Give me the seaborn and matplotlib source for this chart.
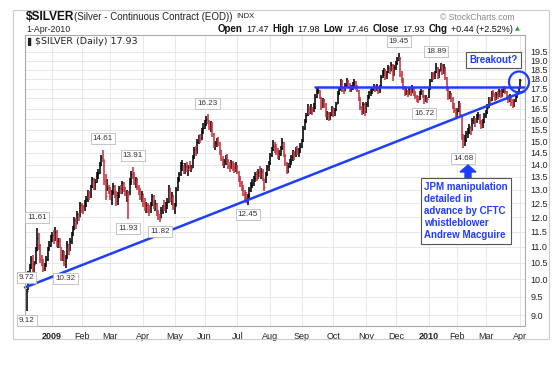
import numpy as np
import pandas as pd
import seaborn as sns
import matplotlib.pyplot as plt
from matplotlib.patches import Ellipse, Polygon, Rectangle
from matplotlib.ticker import FixedLocator, NullLocator, NullFormatter

# daily bars: (high, low, close), one list per month
dec08 = [(9.72, 9.12, 9.65), (10.25, 9.70, 10.15), (10.45, 10.05, 10.35), (10.70, 10.30, 10.60),
         (10.75, 10.20, 10.35), (10.55, 10.15, 10.45), (11.00, 10.45, 10.90), (11.61, 10.85, 11.30),
         (11.45, 10.90, 11.05), (11.10, 10.50, 10.60), (10.75, 10.40, 10.55), (10.60, 10.20, 10.30),
         (10.50, 10.25, 10.40), (10.70, 10.35, 10.60), (11.00, 10.55, 10.90), (11.20, 10.85, 11.05),
         (11.40, 11.00, 11.30)]
jan09 = [(11.50, 11.15, 11.40), (11.55, 11.10, 11.20), (11.65, 11.20, 11.50), (11.55, 11.00, 11.10),
         (11.30, 10.95, 11.20), (11.30, 10.95, 11.05), (11.00, 10.55, 10.65), (10.90, 10.55, 10.80),
         (10.85, 10.40, 10.50), (10.75, 10.32, 10.60), (11.20, 10.60, 11.10), (11.10, 10.75, 10.90),
         (11.30, 10.85, 11.20), (11.50, 11.10, 11.40), (11.70, 11.35, 11.60), (12.00, 11.55, 11.90),
         (11.95, 11.60, 11.75), (12.20, 11.75, 12.10), (12.15, 11.85, 12.00), (12.55, 12.00, 12.45)]
feb09 = [(12.50, 12.15, 12.35), (12.45, 12.10, 12.30), (12.60, 12.20, 12.45), (12.75, 12.35, 12.65),
         (13.00, 12.55, 12.90), (12.95, 12.60, 12.75), (13.20, 12.70, 13.10), (13.50, 13.05, 13.40),
         (13.45, 13.00, 13.10), (13.40, 13.00, 13.30), (13.70, 13.25, 13.60), (13.80, 13.40, 13.65),
         (14.10, 13.60, 14.00), (14.40, 13.95, 14.30), (14.61, 14.10, 14.25), (14.20, 13.20, 13.35),
         (13.60, 12.60, 12.75), (13.40, 12.95, 13.05), (13.20, 12.85, 12.95)]
mar09 = [(13.10, 12.60, 12.75), (13.00, 12.45, 12.90), (13.25, 12.80, 13.15), (13.20, 12.70, 12.80),
         (12.95, 12.40, 12.55), (12.90, 12.45, 12.80), (13.15, 12.70, 13.05), (13.20, 12.85, 12.95),
         (13.35, 12.85, 13.25), (13.30, 12.90, 13.05), (13.10, 12.75, 12.85), (13.00, 12.55, 12.90),
         (12.95, 11.93, 12.80), (13.45, 12.80, 13.35), (13.75, 13.20, 13.60), (13.91, 13.40, 13.55),
         (13.70, 13.20, 13.30), (13.50, 13.05, 13.40), (13.45, 13.00, 13.10), (13.20, 12.80, 12.95),
         (13.05, 12.60, 12.70), (12.95, 12.55, 12.85)]
apr09 = [(12.80, 12.35, 12.50), (12.70, 12.20, 12.35), (12.55, 12.15, 12.45), (12.50, 12.15, 12.30),
         (12.45, 12.05, 12.20), (12.55, 12.15, 12.45), (12.85, 12.40, 12.75), (12.80, 12.30, 12.40),
         (12.60, 12.20, 12.50), (12.50, 12.05, 12.15), (12.25, 11.90, 12.00), (12.10, 11.82, 11.95),
         (12.35, 11.95, 12.25), (12.45, 12.10, 12.40), (12.60, 12.20, 12.30), (12.55, 12.15, 12.45),
         (12.70, 12.30, 12.55), (13.20, 12.50, 13.05), (13.05, 12.55, 12.65), (12.90, 12.45, 12.80),
         (12.75, 12.25, 12.35)]
may09 = [(12.50, 12.10, 12.40), (13.10, 12.40, 13.00), (13.50, 12.95, 13.40), (13.70, 13.30, 13.60),
         (14.10, 13.55, 14.00), (14.20, 13.75, 14.05), (14.00, 13.60, 13.75), (14.05, 13.60, 13.95),
         (14.10, 13.70, 13.80), (14.00, 13.55, 13.90), (14.15, 13.75, 13.85), (14.00, 13.70, 13.85),
         (14.40, 13.85, 14.30), (14.75, 14.25, 14.65), (14.80, 14.35, 14.50), (15.10, 14.45, 14.95),
         (15.25, 14.85, 15.10), (15.30, 14.90, 15.05), (15.60, 15.05, 15.45), (15.80, 15.30, 15.60)]
jun09 = [(15.95, 15.55, 15.85), (16.15, 15.70, 16.00), (16.23, 15.75, 15.85), (15.95, 15.50, 15.65),
         (15.90, 15.40, 15.80), (15.85, 15.20, 15.30), (15.35, 14.70, 14.85), (15.00, 14.60, 14.90),
         (15.15, 14.75, 15.05), (15.20, 14.80, 14.95), (14.95, 14.40, 14.50), (14.60, 14.15, 14.25),
         (14.35, 13.95, 14.10), (14.25, 13.85, 14.15), (14.40, 14.00, 14.30), (14.45, 14.05, 14.20),
         (14.25, 13.80, 13.95), (14.10, 13.70, 13.85), (14.20, 13.80, 14.05), (14.15, 13.75, 13.90),
         (14.05, 13.65, 13.80), (14.10, 13.70, 13.95)]
jul09 = [(14.00, 13.60, 13.70), (13.75, 13.30, 13.45), (13.55, 13.10, 13.25), (13.35, 12.95, 13.05),
         (13.20, 12.75, 12.85), (13.00, 12.60, 12.70), (12.90, 12.50, 12.65), (12.85, 12.45, 12.75),
         (13.10, 12.70, 13.00), (13.30, 12.90, 13.20), (13.40, 13.05, 13.25), (13.55, 13.15, 13.45),
         (13.70, 13.30, 13.60), (13.75, 13.35, 13.50), (13.80, 13.40, 13.70), (13.95, 13.50, 13.60),
         (13.85, 13.40, 13.75), (13.80, 13.35, 13.45), (13.40, 12.95, 13.10), (13.70, 13.25, 13.60),
         (14.00, 13.55, 13.90), (14.15, 13.75, 14.05)]
aug09 = [(14.50, 14.00, 14.40), (14.75, 14.30, 14.65), (15.05, 14.55, 14.80), (14.95, 14.50, 14.70),
         (14.85, 14.40, 14.55), (14.70, 14.25, 14.45), (14.60, 14.20, 14.50), (14.80, 14.35, 14.70),
         (15.15, 14.60, 14.95), (14.95, 14.30, 14.40), (14.45, 13.95, 14.05), (14.10, 13.60, 13.80),
         (14.05, 13.65, 13.95), (14.25, 13.85, 14.15), (14.40, 14.00, 14.30), (14.60, 14.15, 14.45),
         (14.55, 14.20, 14.40), (14.75, 14.30, 14.65), (14.80, 14.40, 14.55), (14.70, 14.30, 14.60),
         (14.90, 14.50, 14.75)]
sep09 = [(15.10, 14.70, 15.00), (15.70, 14.95, 15.60), (16.00, 15.50, 15.90), (16.30, 15.80, 16.20),
         (16.70, 16.15, 16.55), (16.65, 16.20, 16.45), (16.70, 16.25, 16.50), (16.60, 16.20, 16.45),
         (16.75, 16.35, 16.55), (17.20, 16.50, 17.05), (17.55, 17.00, 17.40), (17.60, 17.20, 17.45),
         (17.45, 16.95, 17.05), (17.05, 16.45, 16.60), (17.00, 16.55, 16.90), (16.95, 16.55, 16.70),
         (16.75, 16.10, 16.25), (16.40, 15.95, 16.30), (16.35, 15.90, 16.05), (16.35, 15.95, 16.20),
         (16.65, 16.15, 16.55)]
oct09 = [(16.60, 16.10, 16.25), (16.55, 16.15, 16.45), (16.80, 16.40, 16.70), (17.35, 16.70, 17.25),
         (17.60, 17.15, 17.50), (18.00, 17.40, 17.90), (17.95, 17.30, 17.45), (17.55, 17.20, 17.40),
         (17.80, 17.35, 17.70), (18.05, 17.60, 17.90), (17.95, 17.55, 17.75), (17.80, 17.30, 17.40),
         (17.70, 17.30, 17.60), (17.85, 17.45, 17.75), (18.00, 17.60, 17.85), (17.90, 17.45, 17.60),
         (17.70, 17.30, 17.45), (17.45, 16.85, 17.00), (17.05, 16.45, 16.60), (16.65, 16.20, 16.30),
         (16.80, 16.25, 16.70), (16.75, 16.15, 16.25)]
nov09 = [(16.80, 16.30, 16.70), (17.15, 16.60, 17.05), (17.40, 16.95, 17.30), (17.50, 17.10, 17.35),
         (17.60, 17.20, 17.50), (17.75, 17.35, 17.65), (17.70, 17.30, 17.45), (17.75, 17.35, 17.60),
         (17.65, 17.20, 17.35), (17.70, 17.25, 17.55), (18.20, 17.60, 18.10), (18.50, 18.05, 18.35),
         (18.60, 18.15, 18.50), (18.55, 17.95, 18.10), (18.45, 18.00, 18.35), (18.75, 18.30, 18.60),
         (18.70, 18.25, 18.40), (18.90, 18.45, 18.75), (18.80, 17.90, 18.20), (18.75, 18.15, 18.65)]
dec09 = [(18.95, 18.50, 18.85), (19.20, 18.75, 19.05), (19.45, 18.95, 19.15), (19.20, 18.10, 18.25),
         (18.40, 17.80, 18.00), (18.05, 17.45, 17.55), (17.65, 17.10, 17.30), (17.55, 17.15, 17.35),
         (17.45, 17.05, 17.20), (17.60, 17.15, 17.50), (17.55, 17.10, 17.25), (17.70, 17.25, 17.55),
         (17.60, 17.10, 17.20), (17.35, 16.95, 17.10), (17.15, 16.80, 16.95), (17.10, 16.75, 16.90),
         (17.35, 16.90, 17.25), (17.50, 17.15, 17.35), (17.45, 17.00, 17.10), (17.15, 16.72, 16.95),
         (17.15, 16.80, 17.00), (17.05, 16.75, 16.95)]
jan10 = [(17.60, 17.00, 17.50), (18.00, 17.45, 17.90), (18.35, 17.85, 18.25), (18.35, 17.95, 18.15),
         (18.45, 18.00, 18.35), (18.89, 18.30, 18.60), (18.65, 18.00, 18.15), (18.55, 18.05, 18.45),
         (18.85, 18.40, 18.75), (18.80, 18.20, 18.35), (18.80, 18.25, 18.65), (18.60, 17.95, 18.05),
         (18.10, 17.35, 17.50), (17.60, 16.90, 17.10), (17.40, 16.95, 17.25), (17.25, 16.80, 16.95),
         (17.05, 16.50, 16.60), (16.75, 16.30, 16.45), (16.55, 16.10, 16.20)]
feb10 = [(16.55, 16.05, 16.40), (16.85, 16.35, 16.65), (16.75, 16.15, 16.25), (16.20, 15.05, 15.20),
         (15.30, 14.68, 15.00), (15.25, 14.80, 15.05), (15.45, 14.95, 15.35), (15.60, 15.15, 15.40),
         (15.75, 15.30, 15.65), (15.70, 15.25, 15.50), (16.05, 15.45, 15.95), (16.15, 15.75, 16.00),
         (16.05, 15.65, 15.85), (16.25, 15.80, 16.15), (16.35, 15.95, 16.20), (16.25, 15.75, 15.85),
         (15.95, 15.55, 15.70), (16.00, 15.60, 15.85), (16.30, 15.80, 16.20)]
mar10 = [(16.45, 16.05, 16.35), (16.70, 16.25, 16.55), (17.05, 16.55, 16.90), (17.05, 16.65, 16.85),
         (17.40, 16.85, 17.30), (17.45, 17.05, 17.20), (17.25, 16.85, 17.00), (17.30, 16.90, 17.20),
         (17.35, 16.95, 17.15), (17.50, 17.05, 17.40), (17.45, 17.00, 17.10), (17.50, 17.05, 17.40),
         (17.65, 17.25, 17.55), (17.60, 17.20, 17.35), (17.40, 16.90, 17.00), (17.15, 16.75, 16.95),
         (17.20, 16.80, 17.05), (17.05, 16.65, 16.80), (16.95, 16.55, 16.70), (16.95, 16.60, 16.85),
         (17.20, 16.80, 17.10), (17.40, 17.00, 17.30), (17.60, 17.20, 17.49)]
apr10 = [(17.98, 17.46, 17.93)]

holidays = ['2008-12-25', '2009-01-01', '2009-01-19', '2009-02-16', '2009-04-10', '2009-05-25',
            '2009-07-03', '2009-09-07', '2009-11-26', '2009-12-25', '2010-01-01', '2010-01-18',
            '2010-02-15']

# bars that carry a high / low value box
high_marks = [0, 7, 51, 71, 121, 249, 274]
low_marks = [0, 26, 68, 89, 148, 266, 292]

# hand drawn lines (bar position, price)
trend_pos = [-1.1, 333.3]
trend_val = [9.76, 17.37]
resist_pos = [192.9, 333.0]
resist_val = [17.57, 17.57]

y_ticks = [9.0 + 0.5 * k for k in range(22)]

bars = dec08 + jan09 + feb09 + mar09 + apr09 + may09 + jun09 + jul09 + aug09 + sep09 + \
    oct09 + nov09 + dec09 + jan10 + feb10 + mar10 + apr10
dates = pd.bdate_range('2008-12-08', '2010-04-01', freq='C', holidays=holidays)
df = pd.DataFrame(bars, columns=['high', 'low', 'close'])
df['date'] = dates[:len(df)]
df['pos'] = np.arange(len(df))
up = df['close'].diff().fillna(1) >= 0

sns.set_style('white')
plt.rcParams['font.family'] = ['Liberation Sans', 'DejaVu Sans']

W, H = 554, 368
fig = plt.figure(figsize=(W / 100, H / 100), dpi=100)
ax = fig.add_axes([25 / W, 1 - 326 / H, 500 / W, 291 / H])


def fpos(x, y):
    return x / W, 1 - y / H


blue = '#1f3dff'
red = '#c8303c'

# OHLC bars
for mask, col in [(up, 'black'), (~up, red)]:
    d = df[mask]
    ax.vlines(d['pos'], d['low'], d['high'], color=col, lw=1.15)
    ax.hlines(d['close'], d['pos'], d['pos'] + 0.6, color=col, lw=0.9)

sns.lineplot(x=trend_pos, y=trend_val, ax=ax, color=blue, lw=1.8, clip_on=False)
sns.lineplot(x=resist_pos, y=resist_val, ax=ax, color=blue, lw=1.8, clip_on=False)

ax.set_yscale('log')
ax.set_ylim(8.715, 20.48)
ax.set_xlim(-1.1, 333.3)
ax.yaxis.set_major_locator(FixedLocator(y_ticks))
ax.set_yticklabels([f'{v:.1f}' for v in y_ticks])
ax.yaxis.set_minor_locator(NullLocator())
ax.yaxis.set_minor_formatter(NullFormatter())
ax.yaxis.tick_right()

month_start = df[df['date'].dt.month != df['date'].shift().dt.month].iloc[1:]
ax.set_xticks(month_start['pos'])
labels = [str(d.year) if d.month == 1 else d.strftime('%b') for d in month_start['date']]
ax.set_xticklabels(labels)
for t, d in zip(ax.get_xticklabels(), month_start['date']):
    if d.month == 1:
        t.set_fontweight('bold')
ax.tick_params(axis='both', length=0, labelsize=6.5, colors='#222222')
ax.tick_params(axis='y', pad=4)
ax.tick_params(axis='x', pad=4)
ax.set_xlabel('')
ax.set_ylabel('')
ax.grid(True, color='#e4e4e4', lw=0.6)
ax.set_axisbelow(True)
for s in ax.spines.values():
    s.set_color('#aaaaaa')
    s.set_linewidth(0.8)

# high / low value boxes
box = dict(boxstyle='square,pad=0.25', fc='white', ec='#bbbbbb', lw=0.6)
for i in high_marks:
    v = df.loc[i, 'high']
    ax.annotate(f'{v:.2f}', (i, v), xytext=(0, 8), textcoords='offset points', ha='center',
                va='center', fontsize=5.8, color='#333333', bbox=box, annotation_clip=False)
for i in low_marks:
    v = df.loc[i, 'low']
    ax.annotate(f'{v:.2f}', (i, v), xytext=(0, -7), textcoords='offset points', ha='center',
                va='center', fontsize=5.8, color='#333333', bbox=box, annotation_clip=False)

# annotations
fig.text(*fpos(493.5, 60), 'Breakout?', fontsize=7, fontweight='bold', color=blue,
         ha='center', va='center',
         bbox=dict(boxstyle='square,pad=0.3', fc='white', ec='#555555', lw=0.8))
fig.text(*fpos(424, 211), 'JPM manipulation\ndetailed in\nadvance by CFTC\nwhistleblower\nAndrew Macguire',
         fontsize=7, fontweight='bold', color=blue, ha='left', va='center', linespacing=1.28,
         bbox=dict(boxstyle='square,pad=0.35', fc='white', ec='#555555', lw=0.8))
arrow_px = [(468, 165), (476, 172), (471, 172), (471, 179), (465, 179), (465, 172), (460, 172)]
fig.patches.append(Polygon([fpos(x, y) for x, y in arrow_px], closed=True, fc=blue, ec=blue,
                           transform=fig.transFigure))
fig.patches.append(Ellipse(fpos(519, 82), 20 / W, 21 / H, fill=False, ec=blue, lw=1.6,
                           transform=fig.transFigure))

# chart frame and header
fig.patches.append(Rectangle(fpos(13, 339), 536 / W, 329 / H, fill=False, ec='#cccccc', lw=0.8,
                             transform=fig.transFigure))
fig.text(*fpos(26, 17), '$SILVER', fontsize=8.6, fontweight='bold', va='center', color='#111111')
fig.text(*fpos(74, 17), '(Silver - Continuous Contract (EOD))', fontsize=7, va='center', color='#222222')
fig.text(*fpos(236, 17), 'INDX', fontsize=5.5, va='center', color='#222222')
fig.text(*fpos(26, 29), '1-Apr-2010', fontsize=6.3, va='center', color='#222222')
fig.text(*fpos(515, 17), '\u00a9 StockCharts.com', fontsize=6.2, va='center', ha='right', color='#888888')
fig.text(*fpos(35, 42), '$SILVER (Daily) 17.93', fontsize=6.8, va='center', color='#222222',
         family='DejaVu Sans')
fig.text(*fpos(27, 42), '\u258c', fontsize=6, va='center', color='#222222', family='DejaVu Sans')

runs = [('Open', True), ('17.47', False), ('High', True), ('17.98', False), ('Low', True),
        ('17.46', False), ('Close', True), ('17.93', False), ('Chg', True), ('+0.44 (+2.52%)', False)]
renderer = fig.canvas.get_renderer()
pieces = []
for s, bold in runs:
    t = fig.text(0, 0, s, fontsize=7 if bold else 6.5, fontweight='bold' if bold else 'normal',
                 va='center', color='#111111')
    pieces.append((t, t.get_window_extent(renderer).width))
gap = 3.5
x = 513 - sum(w for _, w in pieces) - gap * (len(pieces) - 1)
for t, w in pieces:
    t.set_position(fpos(x, 29))
    x += w + gap
fig.text(*fpos(515, 29), '\u25b2', fontsize=4.5, va='center', color='#2a9d3a', family='DejaVu Sans')

fig.savefig('out.png', dpi=100, facecolor='white')
